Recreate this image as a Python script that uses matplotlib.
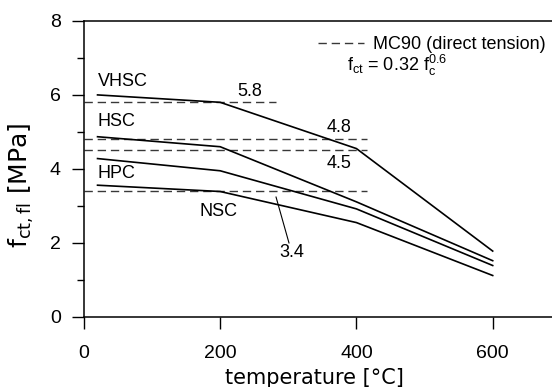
import numpy as np
import matplotlib.pyplot as plt

plt.rcParams['font.family'] = ['Liberation Sans', 'DejaVu Sans']
plt.rcParams['mathtext.fontset'] = 'custom'
plt.rcParams['mathtext.rm'] = 'Liberation Sans'
plt.rcParams['mathtext.it'] = 'Liberation Sans'

# temperature [°C] and flexural tensile strength [MPa]
temp = [20, 200, 400, 600]
vhsc = [6.0, 5.8, 4.55, 1.78]
hsc = [4.87, 4.6, 3.11, 1.52]
hpc = [4.28, 3.95, 2.92, 1.39]
nsc = [3.56, 3.39, 2.55, 1.12]

# MC90 reference levels (value, end temperature)
mc90_val = [5.8, 4.8, 4.5, 3.4]
mc90_end = [282, 415, 415, 415]

fig = plt.figure(figsize=(5.52, 3.87), dpi=100)
ax = fig.add_axes([0.152, 0.181, 0.864, 0.765])

for v, e in zip(mc90_val, mc90_end):
    ax.plot([0, e], [v, v], color='#383838', lw=1.0, dashes=(6, 3.5))

for s in [vhsc, hsc, hpc, nsc]:
    ax.plot(temp, s, color='black', lw=1.2)

# legend
ax.plot([], [], color='#383838', lw=1.0, dashes=(6, 3.5), label='MC90 (direct tension)')
ax.legend(loc='upper right', bbox_to_anchor=(0.99, 0.985), frameon=False,
          fontsize=13, handlelength=2.5, handletextpad=0.5, borderaxespad=0.2)
ax.text(460, 6.8, r'$\mathrm{f_{ct}}$ = 0.32 $\mathrm{f_c^{0.6}}$', fontsize=13,
        ha='center', va='center')

ts = 13
ax.text(20, 6.36, 'VHSC', fontsize=ts, ha='left', va='center')
ax.text(20, 5.28, 'HSC', fontsize=ts, ha='left', va='center')
ax.text(20, 3.88, 'HPC', fontsize=ts, ha='left', va='center')
ax.text(169, 2.86, 'NSC', fontsize=ts, ha='left', va='center')
ax.text(243, 6.08, '5.8', fontsize=ts, ha='center', va='center')
ax.text(375, 5.11, '4.8', fontsize=ts, ha='center', va='center')
ax.text(375, 4.16, '4.5', fontsize=ts, ha='center', va='center')
ax.text(305, 1.73, '3.4', fontsize=ts, ha='center', va='center')
ax.plot([282, 301], [3.24, 2.0], color='black', lw=0.8)

ax.set_xlim(0, 700)
ax.set_ylim(0, 8)
ax.set_xticks([0, 200, 400, 600])
ax.set_yticks([0, 2, 4, 6, 8])
ax.set_yticks([1, 3, 5, 7], minor=True)
ax.tick_params(axis='both', which='major', direction='out', length=8.5, width=1.0,
               labelsize=14)
ax.tick_params(axis='x', pad=12)
ax.tick_params(axis='y', pad=8)
ax.tick_params(axis='y', which='minor', direction='out', length=5, width=1.0)
ax.spines['right'].set_visible(False)
for sp in ['left', 'bottom', 'top']:
    ax.spines[sp].set_linewidth(1.1)

ax.set_xlabel('temperature [°C]', fontsize=15, family='DejaVu Sans')
ax.xaxis.set_label_coords(0.484, -0.172)
ax.set_ylabel(r'$\mathrm{f_{ct,fl}}$ [MPa]', fontsize=18, family='DejaVu Sans',
              math_fontfamily='dejavusans')
ax.yaxis.set_label_coords(-0.100, 0.445)

fig.savefig('out.png', dpi=100)
